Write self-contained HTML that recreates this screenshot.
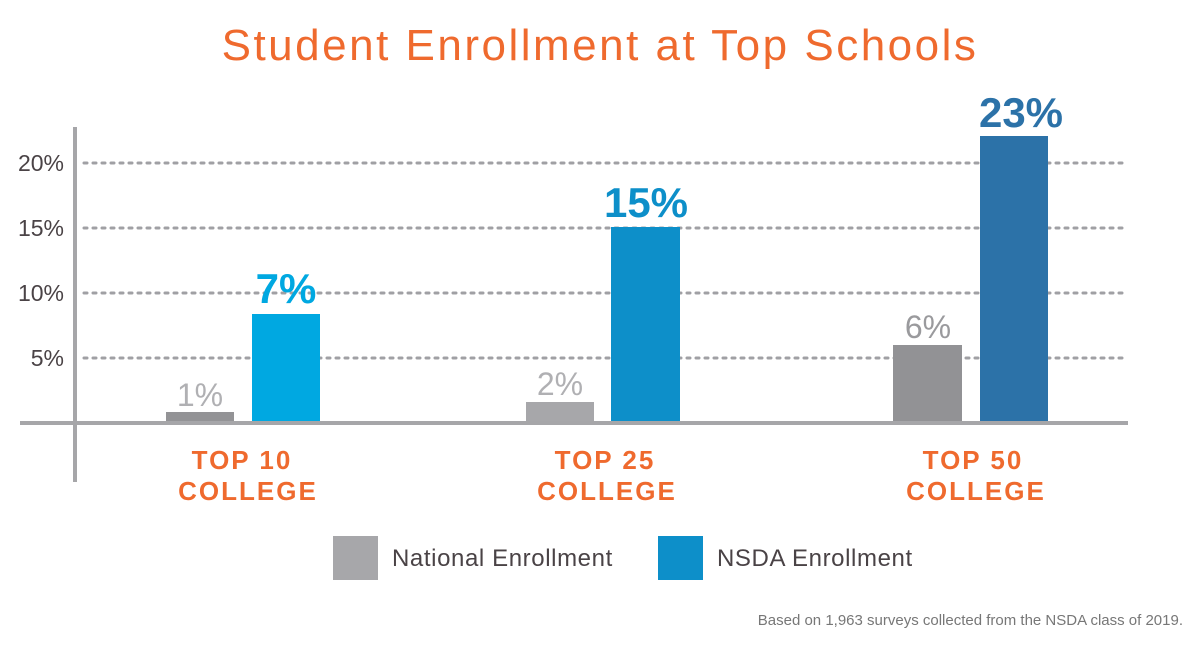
<!DOCTYPE html>
<html><head><style>
body{margin:0;width:1200px;height:648px;background:#fff;overflow:hidden;font-family:"Liberation Sans",sans-serif;}
</style></head><body>
<svg width="1200" height="648" xmlns="http://www.w3.org/2000/svg" font-family="Liberation Sans, sans-serif">
<text x="600" y="60" text-anchor="middle" font-size="44" fill="#ef6a2e" letter-spacing="2.5">Student Enrollment at Top Schools</text>
<g stroke="#a0a0a4" stroke-width="3" stroke-dasharray="3 6" stroke-linecap="round">
<line x1="84" y1="163" x2="1122" y2="163"/>
<line x1="84" y1="228" x2="1122" y2="228"/>
<line x1="84" y1="293" x2="1122" y2="293"/>
<line x1="84" y1="358" x2="1122" y2="358"/>
</g>
<g font-size="23" fill="#4a4346" text-anchor="end">
<text x="64" y="171">20%</text><text x="64" y="236">15%</text><text x="64" y="301">10%</text><text x="64" y="366">5%</text>
</g>
<rect x="166" y="412" width="68" height="11" fill="#939396"/>
<rect x="252" y="314" width="68" height="109" fill="#00a8e1"/>
<rect x="526" y="402" width="68" height="21" fill="#a7a7aa"/>
<rect x="611" y="227" width="69" height="196" fill="#0d8fc9"/>
<rect x="893" y="345" width="69" height="78" fill="#929295"/>
<rect x="980" y="136" width="68" height="287" fill="#2c72a8"/>
<line x1="20" y1="423" x2="1128" y2="423" stroke="#a6a6a9" stroke-width="4"/>
<line x1="75" y1="127" x2="75" y2="482" stroke="#a6a6a9" stroke-width="4"/>
<g font-size="32" text-anchor="middle">
<text x="200" y="406" fill="#b0b0b3">1%</text>
<text x="560" y="395" fill="#b0b0b3">2%</text>
<text x="928" y="338" fill="#9a9a9d">6%</text>
</g>
<g font-size="42" font-weight="bold" text-anchor="middle">
<text x="286" y="303" fill="#00a8e1">7%</text>
<text x="646" y="217" fill="#0d8fc9">15%</text>
<text x="1021" y="127" fill="#2c72a8">23%</text>
</g>
<g font-size="26" font-weight="bold" fill="#ef6a2e" text-anchor="middle" letter-spacing="2">
<text x="242" y="469">TOP 10</text><text x="248" y="500">COLLEGE</text>
<text x="605" y="469">TOP 25</text><text x="607" y="500">COLLEGE</text>
<text x="973" y="469">TOP 50</text><text x="976" y="500">COLLEGE</text>
</g>
<rect x="333" y="536" width="45" height="44" fill="#a7a7aa"/>
<text x="392" y="566" font-size="24" fill="#4a4346" letter-spacing="0.6">National Enrollment</text>
<rect x="658" y="536" width="45" height="44" fill="#0d8fc9"/>
<text x="717" y="566" font-size="24" fill="#4a4346" letter-spacing="0.6">NSDA Enrollment</text>
<text x="1183" y="625" font-size="15" fill="#777" text-anchor="end">Based on 1,963 surveys collected from the NSDA class of 2019.</text>
</svg>
</body></html>
